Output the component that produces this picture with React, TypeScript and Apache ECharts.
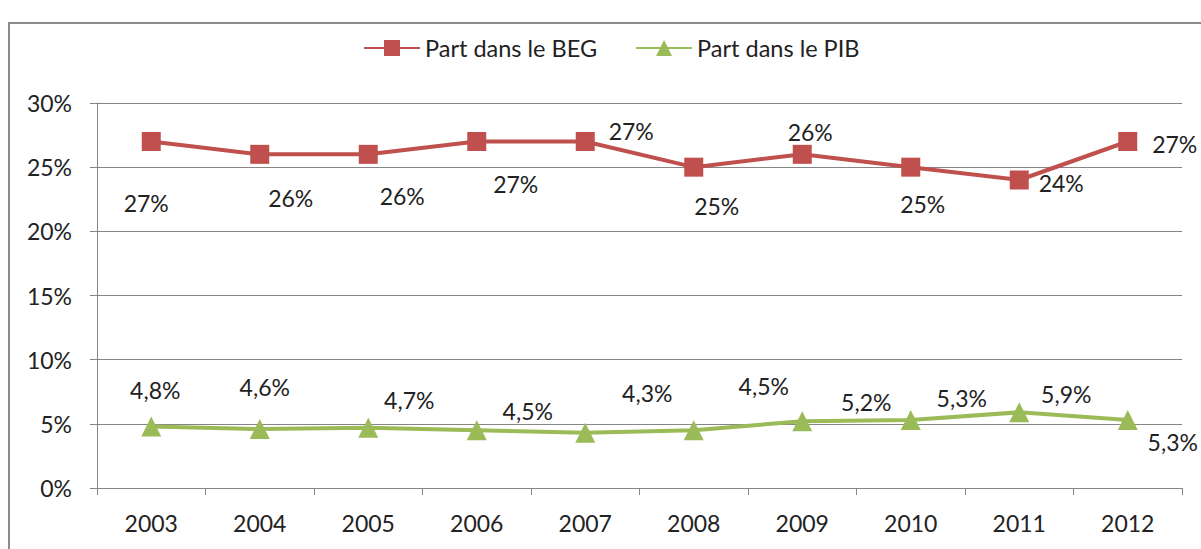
import React, { useEffect, useRef } from "react";
import * as echarts from "echarts";

const years = ["2003", "2004", "2005", "2006", "2007", "2008", "2009", "2010", "2011", "2012"];
const partBEG = [27, 26, 26, 27, 27, 25, 26, 25, 24, 27];
const partPIB = [4.8, 4.6, 4.7, 4.5, 4.3, 4.5, 5.2, 5.3, 5.9, 5.3];
const yTicks = [0, 5, 10, 15, 20, 25, 30];

// label offsets (layout only)
const begLabelOffsets = [[-5, 61], [31, 44], [34, 42], [39, 42], [46, -11], [23, 39], [8, -22], [12, 37], [42, 3], [47, 2]];
const pibLabelOffsets = [[4, -36], [5, -42], [41, -28], [51, -19], [62, -40], [70, -44], [64, -19], [51, -22], [47, -18], [45, 22]];

const FONT = "Lato";
const TEXT = "#222222";

export default function App() {
  const ref = useRef<HTMLDivElement>(null);
  useEffect(() => {
    const chart = echarts.init(ref.current!, null, { renderer: "svg" });
    const labelBase = {
      show: true,
      position: "inside",
      align: "center",
      verticalAlign: "middle",
      color: TEXT,
      fontFamily: FONT,
      fontSize: 23,
    };
    chart.setOption({
      animation: false,
      backgroundColor: "#ffffff",
      graphic: [
        {
          type: "rect",
          shape: { x: 9, y: 23, width: 1300, height: 600 },
          style: { fill: "none", stroke: "#8c8c8c", lineWidth: 2 },
          silent: true,
        },
      ],
      legend: {
        top: 31,
        left: 358,
        itemWidth: 56,
        itemHeight: 20,
        itemGap: 38,
        textStyle: { fontFamily: FONT, fontSize: 23.5, color: TEXT },
        data: ["Part dans le BEG", "Part dans le PIB"],
      },
      grid: { left: 97, right: 19, top: 103, bottom: 61 },
      xAxis: {
        type: "category",
        data: years,
        boundaryGap: true,
        axisLine: { lineStyle: { color: "#868686", width: 1 } },
        axisTick: { show: true, length: 7, lineStyle: { color: "#868686" } },
        axisLabel: { color: TEXT, fontFamily: FONT, fontSize: 23, margin: 23 },
      },
      yAxis: {
        type: "value",
        min: yTicks[0],
        max: yTicks[yTicks.length - 1],
        interval: 5,
        axisLine: { show: true, lineStyle: { color: "#868686", width: 1 } },
        axisTick: { show: true, length: 7, lineStyle: { color: "#868686" } },
        splitLine: { lineStyle: { color: "#868686", width: 1 } },
        axisLabel: { color: TEXT, fontFamily: FONT, fontSize: 23, margin: 25, formatter: (v: number) => v + "%" },
      },
      series: [
        {
          name: "Part dans le BEG",
          type: "line",
          data: partBEG.map((v, i) => ({
            value: v,
            label: { ...labelBase, offset: begLabelOffsets[i] },
          })),
          symbol: "rect",
          symbolSize: 19,
          lineStyle: { color: "#C0504D", width: 4 },
          itemStyle: { color: "#C0504D" },
          label: { ...labelBase, formatter: (p: any) => p.value + "%" },
          z: 3,
        },
        {
          name: "Part dans le PIB",
          type: "line",
          data: partPIB.map((v, i) => ({
            value: v,
            label: { ...labelBase, offset: pibLabelOffsets[i] },
          })),
          symbol: "triangle",
          symbolSize: 20,
          lineStyle: { color: "#9BBB59", width: 4 },
          itemStyle: { color: "#9BBB59" },
          label: { ...labelBase, formatter: (p: any) => String(p.value).replace(".", ",") + "%" },
          z: 3,
        },
      ],
    });
    return () => chart.dispose();
  }, []);
  return <div ref={ref} style={{ position: "fixed", left: 0, top: 0, width: 1201, height: 549 }} />;
}
